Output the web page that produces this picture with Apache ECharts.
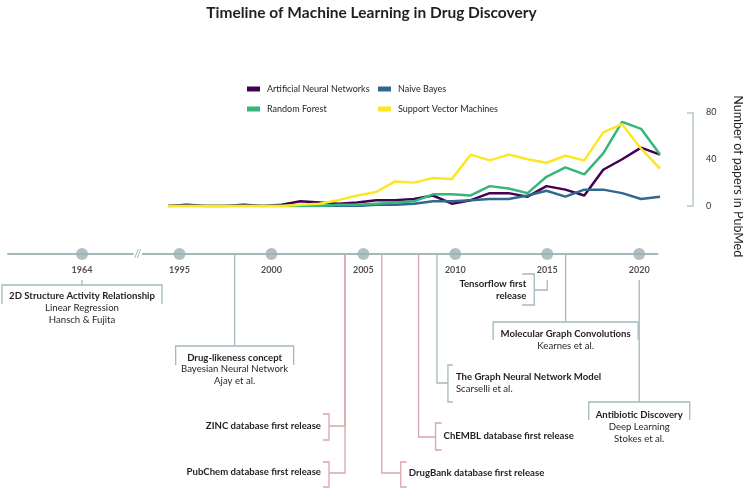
<!DOCTYPE html>
<html><head><meta charset="utf-8">
<script src="https://cdn.jsdelivr.net/npm/echarts@6/dist/echarts.min.js"></script>
<style>html,body{margin:0;padding:0;background:#fff}#c{width:743px;height:490px}</style>
</head><body><div id="c"></div>
<script>
// ---------- data ----------
const years = ['1995','1996','1997','1998','1999','2000','2001','2002','2003','2004','2005','2006','2007','2008','2009','2010','2011','2012','2013','2014','2015','2016','2017','2018','2019','2020','2021'];
const annValues = [0,1,0,0,1,0,1,4,3,2,3,5,5,6,9,2,5,11,11,8,17,14,9,31,40,50,44];
const nbValues  = [0,0,0,0,0,0,0,0,0,0,0,1,1,2,4,4,5,6,6,9,13,8,14,14,11,6,8];
const rfValues  = [0,0,0,0,0,0,0,0,0,1,1,2,3,4,10,10,9,17,15,11,25,33,27,45,72,66,44];
const svmValues = [0,0,0,0,0,0,0,1,2,5,9,12,21,20,24,23,44,39,44,40,37,43,39,63,70,49,32];
const seriesNames = ['Artificial Neural Networks','Naive Bayes','Random Forest','Support Vector Machines'];
const yTicks = [0,40,80];
const timelineYears = [1995,2000,2005,2010,2015,2020];
const earlyYears = [1964];
const eventYears = [1964,1998,2004,2004,2006,2008,2009,2015,2016,2020];
const eventKinds = ['method','method','database','database','database','database','method','software','method','method'];
const eventTitles = ['2D Structure Activity Relationship','Drug-likeness concept','ZINC database first release','PubChem database first release','DrugBank database first release','ChEMBL database first release','The Graph Neural Network Model','Tensorflow first\nrelease','Molecular Graph Convolutions','Antibiotic Discovery'];
const eventDetails = [['Linear Regression','Hansch & Fujita'],['Bayesian Neural Network','Ajay et al.'],[],[],[],[],['Scarselli et al.'],[],['Kearnes et al.'],['Deep Learning','Stokes et al.']];

// ---------- layout / style ----------
const FONT = 'Lato';
const TXT = '#231f20';
const GREY = '#a4b9bc';
const PINK = '#d8a6aa';
const DOT = '#9db1b3';
const ANN_FS = 9.6;
const colors = ['#440154','#31688e','#35b779','#fde725'];
const TL_Y = 254;
const eventLayout = [
  {axis:2, type:'box', y0:280, y1:285, hw:80, side:19, textY:[296,308,320]},
  {axis:1, type:'box', y0:TL_Y, y1:346, hw:59, side:19, textY:[358,369,381]},
  {axis:1, type:'left', y0:TL_Y, y:426, dx:16, top:-12, bottom:14, tick:6, textY:[426]},
  {axis:1, type:'left', y0:TL_Y, y:473, dx:16, top:-11, bottom:14, tick:6, textY:[472]},
  {axis:1, type:'right', y0:TL_Y, y:473, dx:19, top:-11, bottom:14, tick:6, textY:[473]},
  {axis:1, type:'right', y0:TL_Y, y:437, dx:17, top:-14, bottom:13, tick:6, textY:[436]},
  {axis:1, type:'right', y0:TL_Y, y:383, dx:11, top:-18, bottom:19, tick:5, textY:[377,389]},
  {axis:1, type:'left', y0:280, y:290, dx:13, top:-16, bottom:15, tick:12, textY:[284,296]},
  {axis:1, type:'box', y0:TL_Y, y1:322, hw:72.5, side:18, textY:[334,346]},
  {axis:1, type:'box', y0:280, y1:402, hw:50.5, side:18, textY:[415,427,439]}
];

const lineData = [annValues, nbValues, rfValues, svmValues];
const legendPos = [[247,84.5],[378,84.5],[247,104.5],[378,104.5]];

const option = {
  animation:false,
  textStyle:{fontFamily:FONT},
  title:{text:'Timeline of Machine Learning in Drug Discovery', left:'center', top:0,
    textStyle:{fontFamily:FONT, fontSize:15.5, fontWeight:'bold', color:TXT}},
  legend: seriesNames.map((n,i)=>({data:[n], left:legendPos[i][0], top:legendPos[i][1], padding:0,
    icon:'rect', itemWidth:13, itemHeight:5, itemGap:7,
    textStyle:{fontFamily:FONT, fontSize:9, color:TXT, padding:[0,0,0,2]}})),
  grid:[
    {left:168, right:83, top:112.5, bottom:284, containLabel:false, outerBoundsMode:'none'},
    {left:142.7, width:514.9, top:TL_Y-1, height:1, containLabel:false, outerBoundsMode:'none'},
    {left:8, width:124.9, top:TL_Y-1, height:1, containLabel:false, outerBoundsMode:'none'}
  ],
  xAxis:[
    {gridIndex:0, type:'category', data:years, boundaryGap:false, show:false},
    {gridIndex:1, type:'value', min:1993, max:2021, axisLine:{show:true, lineStyle:{color:GREY, width:2}},
      axisTick:{show:false}, axisLabel:{show:false}, splitLine:{show:false}},
    {gridIndex:2, type:'value', min:1960, max:1966.75, axisLine:{show:true, lineStyle:{color:GREY, width:2}},
      axisTick:{show:false}, axisLabel:{show:false}, splitLine:{show:false}}
  ],
  yAxis:[
    {gridIndex:0, type:'value', position:'right', min:yTicks[0], max:yTicks[2], interval:yTicks[1]-yTicks[0], offset:33,
      axisLine:{show:false}, axisTick:{show:false}, splitLine:{show:false},
      axisLabel:{margin:13, color:'#333', fontSize:9, fontFamily:FONT},
      name:'Number of papers in PubMed', nameLocation:'middle', nameRotate:-90, nameGap:39,
      nameTextStyle:{fontFamily:FONT, fontSize:12.5, color:TXT, padding:[0,0,0,34]}},
    {gridIndex:0, type:'value', position:'right', min:yTicks[0], max:yTicks[2], interval:yTicks[2]-yTicks[0], offset:33,
      axisLine:{show:true, lineStyle:{color:'#b8c8c9', width:1.5}},
      axisTick:{show:true, inside:true, length:6, lineStyle:{color:'#b8c8c9', width:1.5}},
      axisLabel:{show:false}, splitLine:{show:false}},
    {gridIndex:1, type:'value', min:0, max:1, show:false},
    {gridIndex:2, type:'value', min:0, max:1, show:false}
  ],
  series:[
    ...seriesNames.map((n,i)=>({name:n, type:'line', xAxisIndex:0, yAxisIndex:0, data:lineData[i],
      showSymbol:false, symbol:'none', color:colors[i], lineStyle:{width:2.5, color:colors[i]}, z:2+i})),
    {type:'scatter', xAxisIndex:1, yAxisIndex:2, data:timelineYears.map(y=>[y,0]), symbolSize:12,
      itemStyle:{color:DOT}, z:5,
      label:{show:true, position:'bottom', distance:6, formatter:p=>String(p.value[0]),
        fontFamily:FONT, fontSize:9, fontWeight:'bold', color:TXT}},
    {type:'scatter', xAxisIndex:2, yAxisIndex:3, data:earlyYears.map(y=>[y,0]), symbolSize:12,
      itemStyle:{color:DOT}, z:5,
      label:{show:true, position:'bottom', distance:6, formatter:p=>String(p.value[0]),
        fontFamily:FONT, fontSize:9, fontWeight:'bold', color:TXT}}
  ]
};

const chart = echarts.init(document.getElementById('c'));
chart.setOption(option);

// ---------- annotations, positioned through the timeline axes ----------
const els = [];
function pl(points, color){
  els.push({type:'polyline', shape:{points}, style:{stroke:color, lineWidth:1.3, fill:'none'}, z:10});
}
function tx(x, y, text, bold, align){
  els.push({type:'text', x, y, z:11, style:{text, font:(bold?'bold ':'')+ANN_FS+'px '+FONT, fill:TXT,
    align, verticalAlign:'middle', textAlign:align, textVerticalAlign:'middle'}});
}
eventYears.forEach((yr,i)=>{
  const L = eventLayout[i];
  const px = chart.convertToPixel({xAxisIndex:L.axis}, yr);
  const col = eventKinds[i]==='database' ? PINK : GREY;
  const lines = eventTitles[i].split('\n').map(t=>[t,true]).concat(eventDetails[i].map(t=>[t,false]));
  if (L.type==='box'){
    pl([[px,L.y0],[px,L.y1]], col);
    pl([[px-L.hw,L.y1+L.side],[px-L.hw,L.y1],[px+L.hw,L.y1],[px+L.hw,L.y1+L.side]], col);
    lines.forEach((ln,k)=>tx(px, L.textY[k], ln[0], ln[1], 'center'));
  } else {
    const dir = L.type==='left' ? -1 : 1;
    const bx = px + dir*L.dx;
    pl([[px,L.y0],[px,L.y],[bx,L.y]], col);
    pl([[bx+dir*L.tick,L.y+L.top],[bx,L.y+L.top],[bx,L.y+L.bottom],[bx+dir*L.tick,L.y+L.bottom]], col);
    lines.forEach((ln,k)=>tx(bx+dir*8, L.textY[k], ln[0], ln[1], dir<0?'right':'left'));
  }
});
// axis break mark between the two timeline segments
const breakX = (chart.convertToPixel({xAxisIndex:2}, 1966.75) + chart.convertToPixel({xAxisIndex:1}, 1993))/2;
els.push({type:'text', x:breakX, y:TL_Y, z:11, style:{text:'//', font:'11px '+FONT, fill:'#8fa3a5',
  align:'center', verticalAlign:'middle', textAlign:'center', textVerticalAlign:'middle'}});
chart.setOption({graphic:els});
</script></body></html>
